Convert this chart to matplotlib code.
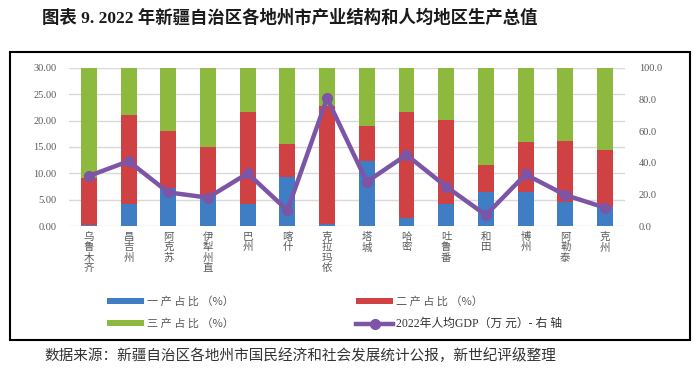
import matplotlib.pyplot as plt
from matplotlib.patches import Rectangle
import numpy as np

plt.rcParams['font.family'] = ['Noto Sans CJK SC', 'DejaVu Sans']

# data
cities = ['乌鲁木齐', '昌吉州', '阿克苏', '伊犁州直', '巴州', '喀什', '克拉玛依',
          '塔城', '哈密', '吐鲁番', '和田', '博州', '阿勒泰', '克州']
primary = [0.8, 13.9, 23.8, 19.6, 14.1, 31.2, 1.2, 41.1, 5.3, 14.1, 21.7, 21.3, 15.4, 12.2]
secondary = [29.3, 56.2, 36.2, 30.1, 58.1, 20.4, 74.8, 21.8, 66.7, 53.1, 16.8, 32.0, 38.5, 36.0]
tertiary = [69.9, 29.9, 40.0, 50.3, 27.8, 48.4, 24.0, 37.1, 28.0, 32.8, 61.5, 46.7, 46.1, 51.8]
gdp_per_capita = [9.5, 12.3, 6.4, 5.4, 10.0, 3.0, 24.2, 8.4, 13.5, 7.5, 2.1, 9.8, 5.9, 3.5]
legend_labels = ['一 产 占 比 （%）', '三 产 占 比 （%）', '二 产 占 比 （%）',
                 '2022年人均GDP（万 元）- 右 轴']

blue = '#3F7DC4'
red = '#D04143'
green = '#8DB93F'
purple = '#7D55A6'
grey_text = '#595959'
num_font = ['Liberation Serif', 'Noto Sans CJK SC']

fig = plt.figure(figsize=(7, 3.72), dpi=100)

# left axis: grid + 0-30 labels
ax = fig.add_axes([0.0986, 0.392, 0.794, 0.426])
x = np.arange(len(cities))
ax.set_xlim(-0.5, len(cities) - 0.5)
ax.set_ylim(0, 30)
ax.set_yticks(np.arange(0, 31, 5))
ax.set_yticklabels([f'{v:.2f}' for v in np.arange(0, 31, 5)],
                   family=num_font, fontsize=7.5, color=grey_text)
ax.yaxis.grid(True, color='#D9D9D9', lw=1)
ax.set_axisbelow(True)
ax.tick_params(axis='y', length=0, pad=9)
ax.set_xticks(x)
ax.set_xticklabels(['\n'.join(c) for c in cities], fontsize=7.5,
                   color=grey_text, linespacing=1.05, va='top')
ax.tick_params(axis='x', length=0, pad=4)
for s in ax.spines.values():
    s.set_visible(False)

# right axis: stacked percentage bars
ax2 = ax.twinx()
ax2.set_ylim(0, 100)
ax2.set_yticks(np.arange(0, 101, 20))
ax2.set_yticklabels([f'{v:.1f}' for v in np.arange(0, 101, 20)],
                    family=num_font, fontsize=7.5, color=grey_text)
ax2.tick_params(axis='y', length=0, pad=10)
w = 0.4
b1 = ax2.bar(x, primary, w, color=blue)
b2 = ax2.bar(x, secondary, w, bottom=primary, color=red)
b3 = ax2.bar(x, tertiary, w, bottom=np.add(primary, secondary), color=green)
for s in ax2.spines.values():
    s.set_visible(False)

# line on top, same scale as left axis
ax3 = ax.twinx()
ax3.set_ylim(0, 30)
ax3.axis('off')
ln, = ax3.plot(x, gdp_per_capita, color=purple, lw=3.2, marker='o', ms=7)

leg = fig.legend([b1, b3, b2, ln], legend_labels,
                 ncol=2, loc='upper left', bbox_to_anchor=(0.153, 0.203),
                 frameon=False, fontsize=8, handlelength=3.3, handleheight=0.45,
                 handletextpad=0.3, columnspacing=11, labelspacing=1.0,
                 borderaxespad=0, borderpad=0)
for t in leg.get_texts():
    t.set_color(grey_text)
leg.get_texts()[3].set_family(num_font)
leg.get_texts()[3].set_fontsize(8.5)
leg.get_texts()[3].set_color('#333333')

# outer frame
fig.patches.append(Rectangle((0.0143, 0.086), 0.971, 0.774, transform=fig.transFigure,
                             fill=False, edgecolor='black', lw=1.5))

fig.text(0.06, 0.951, '图表 9. 2022 年新疆自治区各地州市产业结构和人均地区生产总值',
         family=num_font, fontsize=12.5, fontweight='bold', va='center', color='#1a1a1a')
fig.text(0.064, 0.043, '数据来源：新疆自治区各地州市国民经济和社会发展统计公报，新世纪评级整理',
         fontsize=10.5, va='center', color='#333333')

fig.savefig('out.png', dpi=100)
